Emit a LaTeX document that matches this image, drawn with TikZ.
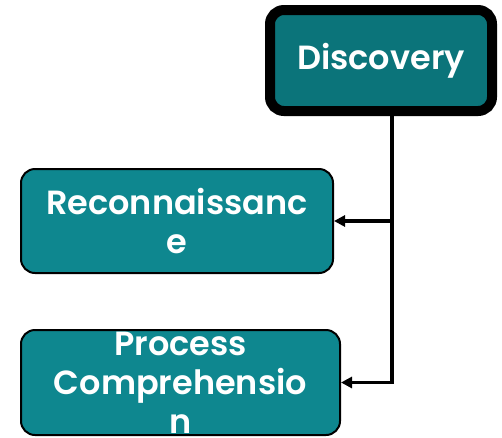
\documentclass[tikz,border=0pt]{standalone}
\usepackage{fontspec}
\setmainfont{Poppins}[BoldFont={Poppins SemiBold}]
\usetikzlibrary{arrows.meta}
\definecolor{discfill}{HTML}{0B747A}
\definecolor{stepfill}{HTML}{0E878F}
\tikzset{
  label text/.style={text=white, font=\bfseries\fontsize{33.5}{39}\selectfont, align=center, inner sep=0pt},
  phasebox/.style={label text, draw=black, fill=stepfill, line width=2pt, rounded corners=14pt},
  rootbox/.style={label text, draw=black, fill=discfill, line width=10pt, rounded corners=14pt},
  link/.style={draw=black, line width=3.2pt, -{Triangle[length=11pt,width=11pt]}},
}
\begin{document}
\begin{tikzpicture}[x=1pt,y=-1pt]
  \useasboundingbox (0,0) rectangle (502,437);
  \node[rootbox, minimum width=222pt, minimum height=101pt] (disc) at (381,60.5) {Discovery};
  \node[phasebox, minimum width=312pt, minimum height=104pt] (recon) at (177,221) {Reconnaissanc\\e};
  \node[phasebox, minimum width=319pt, minimum height=105pt] (proc) at (180.5,382.5) {Process\\Comprehensio\\n};
  \coordinate (top) at (392,113);
  \coordinate (branch) at (392,221);
  \draw[link] (top) |- (proc.east);
  \draw[link] (branch) -- (recon.east);
\end{tikzpicture}
\end{document}
